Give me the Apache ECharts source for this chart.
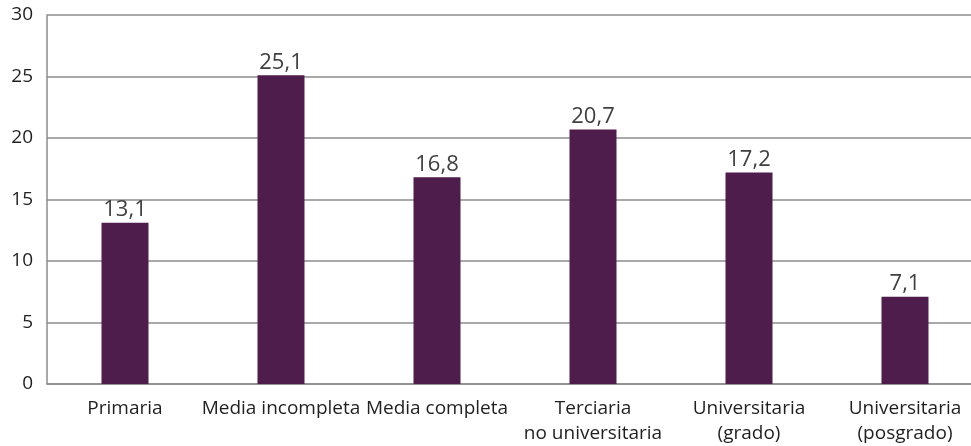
<!DOCTYPE html>
<html>
<head>
<meta charset="utf-8">
<script src="https://cdn.jsdelivr.net/npm/echarts@6/dist/echarts.min.js"></script>
<style>
  html, body { margin: 0; padding: 0; background: #fff; overflow: hidden; }
  /* the original plot runs past the right edge of the picture */
  #wrap { width: 983px; height: 446px; }
</style>
</head>
<body>
<div id="wrap"></div>
<script>
var categories = ['Primaria', 'Media incompleta', 'Media completa', 'Terciaria\nno universitaria', 'Universitaria\n(grado)', 'Universitaria\n(posgrado)'];
var values = [13.1, 25.1, 16.8, 20.7, 17.2, 7.1];

var fontFamily = 'Open Sans';
var myChart = echarts.init(document.getElementById('wrap'));

var option = {
    animation: false,
    grid: { left: 47, right: 0, top: 15, bottom: 62, containLabel: false },
    xAxis: {
        type: 'category',
        data: categories,
        axisLine: { lineStyle: { color: '#8c8c8c', width: 1.5 } },
        axisTick: { show: false },
        axisLabel: {
            color: '#1f1f1f', fontSize: 19, fontFamily: fontFamily,
            margin: 12, lineHeight: 25, interval: 0
        }
    },
    yAxis: {
        type: 'value',
        min: 0, max: 30, interval: 5,
        axisLine: { show: true, lineStyle: { color: '#8c8c8c', width: 1.5 } },
        axisTick: { show: false },
        splitLine: { lineStyle: { color: '#8c8c8c', width: 1.5 } },
        axisLabel: { color: '#1f1f1f', fontSize: 19, fontFamily: fontFamily, margin: 14 }
    },
    series: [{
        type: 'bar',
        data: values,
        barWidth: 47,
        itemStyle: { color: '#4e1d4c' },
        label: {
            show: true, position: 'top', distance: 2,
            color: '#404040', fontSize: 22, fontFamily: fontFamily,
            formatter: function (p) { return p.value.toFixed(1).replace('.', ','); }
        }
    }]
};
myChart.setOption(option);
</script>
</body>
</html>
